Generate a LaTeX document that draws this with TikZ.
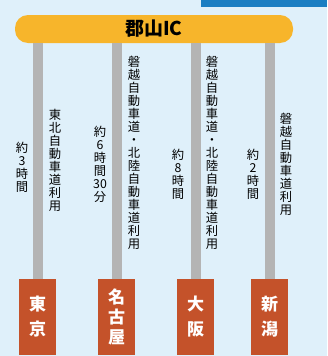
\documentclass[tikz,border=0pt]{standalone}
\usepackage{fontspec}
\newfontfamily\jp{Noto Sans CJK JP}
\definecolor{bg}{HTML}{DFF0FA}
\definecolor{topblue}{HTML}{1B7EC2}
\definecolor{baryellow}{HTML}{F7B52B}
\definecolor{destred}{HTML}{C4522A}
\definecolor{polegray}{HTML}{B4B4B4}
\tikzset{
  bar/.style={fill=baryellow, rounded corners=13pt, minimum width=278pt, minimum height=28pt, inner sep=0pt, font=\jp\bfseries\fontsize{19}{20}\selectfont},
  dest/.style={fill=destred, minimum width=37pt, minimum height=76pt, inner sep=0pt, text=white, align=center, font=\jp\bfseries\fontsize{17}{25}\selectfont},
  dest3/.style={dest, font=\jp\bfseries\fontsize{17}{20}\selectfont},
  lab/.style={inner sep=0pt, align=center, font=\jp\fontsize{12.3}{13}\selectfont},
  pole/.style={draw=polegray, line width=10pt}
}
\begin{document}
\begin{tikzpicture}[x=1pt,y=-1pt]
\fill[bg] (0,0) rectangle (327,356);
\useasboundingbox (0,0) rectangle (327,356);
\fill[topblue] (201,0) rectangle (327,7);
\node[bar] (ic) at (154,29) {郡山IC};
\node[dest] (tokyo) at (37.5,317) {東\\京};
\node[dest3] (nagoya) at (116.5,317) {名\\古\\屋};
\node[dest] (osaka) at (195.5,317) {大\\阪};
\node[dest] (niigata) at (269.5,317) {新\\潟};
\foreach \d in {tokyo,nagoya,osaka,niigata}
  \draw[pole] (\d.north) -- (\d.north |- ic.south);
\node[lab] (t1) at (22,167.5) {約\\3\\時\\間};
\node[lab] (r1) at (55,160.5) {東\\北\\自\\動\\車\\道\\利\\用};
\node[lab] (t2) at (100,164) {約\\6\\時\\間\\30\\分};
\node[lab] (r2) at (134,152.5) {磐\\越\\自\\動\\車\\道\\・\\北\\陸\\自\\動\\車\\道\\利\\用};
\node[lab] (t3) at (178,174) {約\\8\\時\\間};
\node[lab] (r3) at (212,152.5) {磐\\越\\自\\動\\車\\道\\・\\北\\陸\\自\\動\\車\\道\\利\\用};
\node[lab] (t4) at (253,174) {約\\2\\時\\間};
\node[lab] (r4) at (286,164.5) {磐\\越\\自\\動\\車\\道\\利\\用};
\end{tikzpicture}
\end{document}
